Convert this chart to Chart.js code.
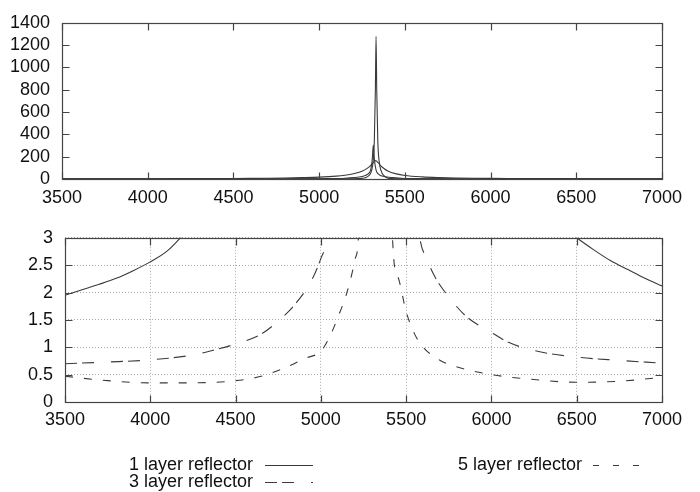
<!DOCTYPE html>
<html>
<head>
<meta charset="utf-8">
<script src="https://cdn.jsdelivr.net/npm/chart.js@4"></script>
<style>
  body { margin: 0; background: #fff; }
  canvas { position: absolute; left: 0; }
  #top { top: 0; }
  #bottom { top: 215px; }
</style>
</head>
<body>
<canvas id="top" width="700" height="215"></canvas>
<canvas id="bottom" width="700" height="277"></canvas>
<script>
// series labels
const seriesNames = ['1 layer reflector', '3 layer reflector', '5 layer reflector'];

// 1 layer reflector
const x1 = [3500, 3600, 3700, 3800, 3900, 4000, 4100, 4200, 4300, 4400, 4500, 4600, 4700, 4800, 4900, 5000,
  5100, 5150, 5200, 5250, 5280, 5300, 5315, 5330, 5345, 5360, 5380, 5400, 5450, 5500, 5600, 5700, 5800,
  5900, 6000, 6100, 6200, 6300, 6400, 6500, 6600, 6700, 6800, 6900, 7000];
const y1 = [1.95, 2.05, 2.15, 2.26, 2.40, 2.56, 2.76, 3.08, 3.45, 3.95, 4.7, 5.8, 7.3, 9.5, 12.5, 17,
  26, 34, 47, 70, 95, 120, 145, 165, 145, 118, 92, 72, 46, 32, 19, 12.5, 8.8,
  6.6, 5.3, 4.5, 3.95, 3.55, 3.25, 3.0, 2.78, 2.58, 2.42, 2.26, 2.12];

// 3 layer reflector
const x3 = [3500, 3750, 4000, 4250, 4400, 4500, 4650, 4750, 4850, 4950, 5000, 5040, 5100, 5150, 5200, 5250,
  5280, 5300, 5310, 5316, 5322, 5332, 5350, 5380, 5430, 5480, 5530, 5580, 5620, 5670, 5750, 5850,
  6000, 6100, 6250, 6500, 6750, 7000];
const y3 = [0.70, 0.73, 0.77, 0.86, 0.97, 1.06, 1.24, 1.48, 1.79, 2.25, 2.62, 3.0, 4.5, 7, 12, 22,
  40, 80, 180, 304, 180, 80, 40, 22, 12, 7, 4.5, 3.0, 2.62, 2.28, 1.92, 1.57,
  1.27, 1.09, 0.94, 0.82, 0.76, 0.71];

// 5 layer reflector
const x5 = [3500, 3750, 4000, 4250, 4500, 4650, 4800, 4900, 5000, 5050, 5100, 5150, 5200, 5220, 5250, 5270,
  5290, 5305, 5315, 5322, 5328, 5332, 5336, 5342, 5350, 5362, 5378, 5395, 5420, 5450, 5500, 5550,
  5600, 5700, 5800, 6000, 6250, 6500, 6750, 7000];
const y5 = [0.47, 0.39, 0.35, 0.35, 0.39, 0.47, 0.64, 0.79, 0.93, 1.18, 1.55, 1.97, 2.6, 3.0, 6, 12,
  30, 70, 160, 350, 800, 1279, 800, 350, 160, 70, 30, 12, 3.0, 2.3, 1.65, 1.24,
  1.0, 0.76, 0.64, 0.5, 0.41, 0.36, 0.38, 0.45];

// tick labels
const xTicks = [3500, 4000, 4500, 5000, 5500, 6000, 6500, 7000];
const yTicksTop = [0, 200, 400, 600, 800, 1000, 1200, 1400];
const yTicksBottom = [0, 0.5, 1, 1.5, 2, 2.5, 3];

const lineColor = '#3a3a3a';
const dashes = [[], [12, 5, 12, 17], [8, 11]];
const font = { family: '"Liberation Sans", Arial, sans-serif', size: 18 };

function pts(xs, ys) {
  return xs.map((x, i) => ({ x: x, y: ys[i] }));
}

function makeDatasets(dashed) {
  const all = [pts(x1, y1), pts(x3, y3), pts(x5, y5)];
  return all.map((d, i) => ({
    label: seriesNames[i],
    data: d,
    borderColor: lineColor,
    borderWidth: 1.1,
    borderDash: dashed ? dashes[i] : [],
    pointRadius: 0,
    cubicInterpolationMode: 'monotone',
    fill: false
  }));
}

// box round the plot with inward ticks on all four sides
const framePlugin = {
  id: 'frame',
  afterDatasetsDraw(chart) {
    const { ctx, chartArea: a, scales: { x, y } } = chart;
    const L = Math.round(a.left) + 0.5, R = Math.round(a.right) + 0.5;
    const T = Math.round(a.top) + 0.5, B = Math.round(a.bottom) + 0.5;
    ctx.save();
    ctx.strokeStyle = '#444';
    ctx.lineWidth = 1.2;
    ctx.strokeRect(L, T, R - L, B - T);
    ctx.beginPath();
    x.ticks.forEach(t => {
      const p = Math.round(x.getPixelForValue(t.value)) + 0.5;
      ctx.moveTo(p, B); ctx.lineTo(p, B - 7);
      ctx.moveTo(p, T); ctx.lineTo(p, T + 7);
    });
    y.ticks.forEach(t => {
      const p = Math.round(y.getPixelForValue(t.value)) + 0.5;
      ctx.moveTo(L, p); ctx.lineTo(L + 7, p);
      ctx.moveTo(R, p); ctx.lineTo(R - 7, p);
    });
    ctx.stroke();
    ctx.restore();
  }
};

// gnuplot style key under the lower plot
const keyPlugin = {
  id: 'key',
  afterDraw(chart) {
    const ctx = chart.ctx;
    const spots = [
      { tx: 253, y: 250, l0: 265, l1: 313, dash: [] },
      { tx: 253, y: 267, l0: 265, l1: 313, dash: [12, 5, 12, 17] },
      { tx: 582, y: 250, l0: 593, l1: 641, dash: [6, 14] }
    ];
    ctx.save();
    ctx.font = font.size + 'px ' + font.family;
    ctx.fillStyle = '#111';
    ctx.textAlign = 'right';
    ctx.textBaseline = 'middle';
    chart.data.datasets.forEach((ds, i) => {
      const s = spots[i];
      ctx.fillText(ds.label, s.tx, s.y);
      ctx.beginPath();
      ctx.setLineDash(s.dash);
      ctx.strokeStyle = lineColor;
      ctx.lineWidth = 1.1;
      ctx.moveTo(s.l0, s.y + 0.5);
      ctx.lineTo(s.l1, s.y + 0.5);
      ctx.stroke();
    });
    ctx.restore();
  }
};

function axes(yTicks, yMax, yWidth, xHeight, grid, xPad) {
  const gridOpts = grid
    ? { display: true, drawTicks: false, color: '#aaaaaa', lineWidth: 1 }
    : { display: false, drawTicks: false };
  return {
    x: {
      type: 'linear', min: 3500, max: 7000,
      afterBuildTicks: s => { s.ticks = xTicks.map(v => ({ value: v })); },
      afterFit: s => { s.height = xHeight; },
      ticks: { font: font, color: '#111', padding: xPad, maxRotation: 0, autoSkip: false, callback: v => String(v) },
      grid: gridOpts,
      border: { display: false, dash: [1, 2] }
    },
    y: {
      type: 'linear', min: 0, max: yMax,
      afterBuildTicks: s => { s.ticks = yTicks.map(v => ({ value: v })); },
      afterFit: s => { s.width = yWidth; },
      ticks: { font: font, color: '#111', padding: 12, autoSkip: false, callback: v => String(v) },
      grid: gridOpts,
      border: { display: false, dash: [1, 2] }
    }
  };
}

new Chart(document.getElementById('top'), {
  type: 'line',
  data: { datasets: makeDatasets(false) },
  options: {
    responsive: false,
    animation: false,
    layout: { padding: { top: 12, right: 38, left: 0, bottom: 0 } },
    scales: axes(yTicksTop, 1400, 62, 36, false, 8),
    plugins: { legend: { display: false }, tooltip: { enabled: false } }
  },
  plugins: [framePlugin]
});

new Chart(document.getElementById('bottom'), {
  type: 'line',
  data: { datasets: makeDatasets(true) },
  options: {
    responsive: false,
    animation: false,
    layout: { padding: { top: 22, right: 38, left: 0, bottom: 55 } },
    scales: axes(yTicksBottom, 3, 65, 35, true, 7),
    plugins: { legend: { display: false }, tooltip: { enabled: false } }
  },
  plugins: [framePlugin, keyPlugin]
});
</script>
</body>
</html>
